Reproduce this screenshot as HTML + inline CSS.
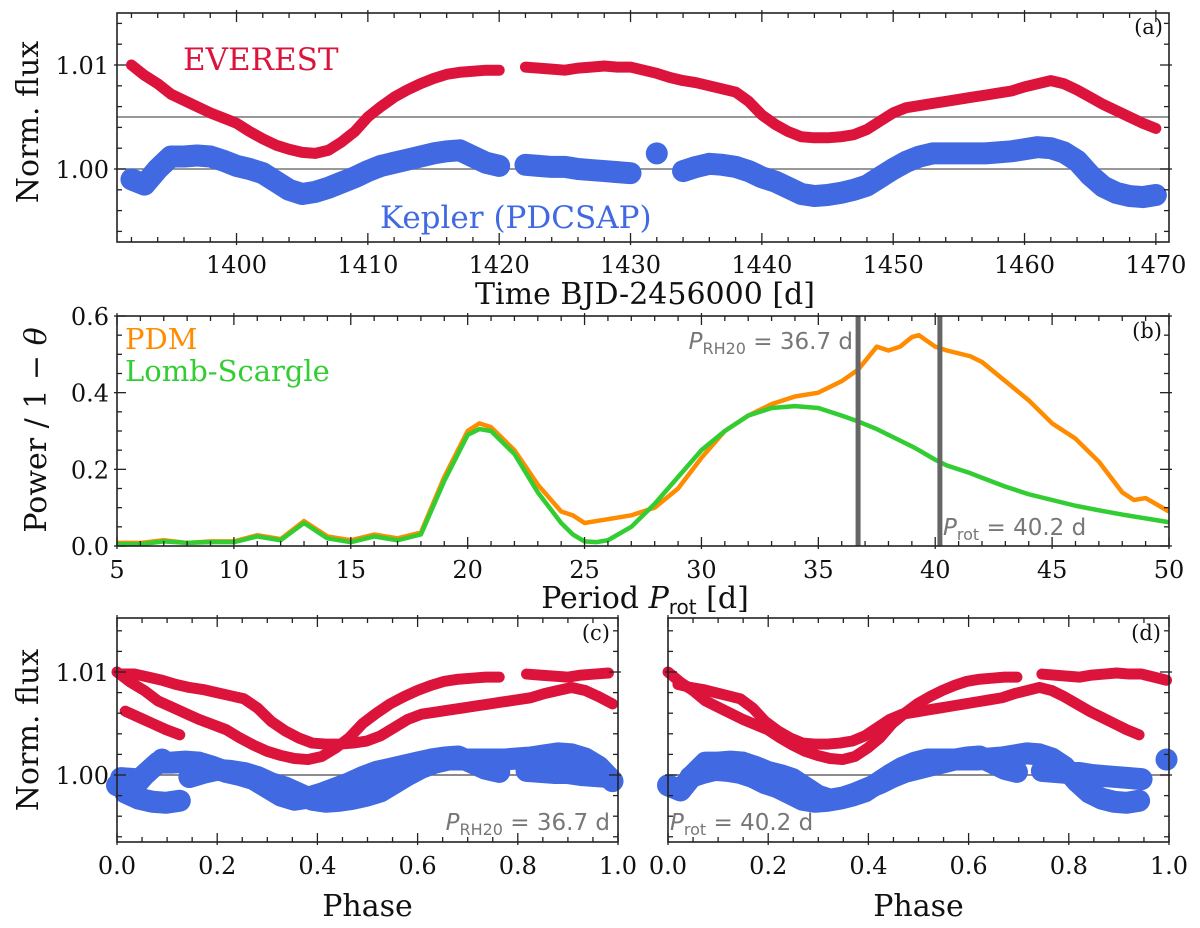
<!DOCTYPE html>
<html><head><meta charset="utf-8">
<style>
html,body{margin:0;padding:0;background:#fff;}
svg{display:block;font-family:"DejaVu Serif","Liberation Serif",serif;}
</style></head>
<body>
<svg id="fig" width="1200" height="928" viewBox="0 0 1200 928" xmlns="http://www.w3.org/2000/svg">
<g id="pa"></g>
<g id="pb"></g>
<g id="pc"></g>
<g id="pd"></g>
</svg>
<script>
// ---- Light curve data (normalized flux deviation, ppt) ----
const times = [1392,1393,1394,1395,1396,1397,1398,1399,1400,1401,1402,1403,1404,1405,1406,1407,1408,1409,1410,1411,1412,1413,1414,1415,1416,1417,1418,1419,1420,1421,1422,1423,1424,1425,1426,1427,1428,1429,1430,1431,1432,1433,1434,1435,1436,1437,1438,1439,1440,1441,1442,1443,1444,1445,1446,1447,1448,1449,1450,1451,1452,1453,1454,1455,1456,1457,1458,1459,1460,1461,1462,1463,1464,1465,1466,1467,1468,1469,1470];
const everestPpt = [10,9,8.2,7.2,6.6,6,5.4,4.9,4.4,3.6,2.9,2.3,1.9,1.6,1.5,1.8,2.6,3.6,5,6,6.9,7.6,8.2,8.7,9.1,9.3,9.4,9.5,9.5,null,9.8,9.7,9.6,9.5,9.7,9.8,9.9,9.8,9.8,9.5,9.2,8.8,8.5,8.3,8.0,7.7,7.4,6.5,5.2,4.3,3.6,3.1,3.0,3.0,3.1,3.3,3.8,4.6,5.4,5.9,6.1,6.3,6.5,6.7,6.9,7.1,7.3,7.5,7.9,8.2,8.5,8.2,7.6,6.9,6.2,5.6,5.0,4.4,3.9];
const keplerPpt = [-1,-1.5,0,1.2,1.2,1.3,1.2,0.8,0.3,0,-0.4,-1.2,-2,-2.4,-2.2,-1.8,-1.3,-0.8,-0.2,0.3,0.6,0.9,1.2,1.5,1.7,1.8,1.2,0.6,0.3,null,0.4,0.3,0.2,0.2,0.0,-0.1,-0.2,-0.3,-0.4,null,1.5,null,-0.2,0.2,0.5,0.4,0.2,-0.2,-0.8,-1.2,-1.8,-2.4,-2.6,-2.5,-2.3,-2.0,-1.6,-0.8,0,0.7,1.2,1.5,1.5,1.5,1.5,1.5,1.6,1.7,1.9,2.1,2.0,1.6,0.8,-0.6,-1.7,-2.3,-2.6,-2.7,-2.5];
const phaseT0 = 1392;
const periodC = 36.7;
const periodD = 40.2;
// ---- Periodogram data ----
const periods = [5,6,7,8,9,10,11,12,13,14,15,16,17,18,19,20,20.5,21,22,23,24,24.5,25,25.5,26,27,28,29,30,31,32,33,34,35,36,36.7,37.5,38,38.5,39,39.3,40,40.5,41.5,42,43,44,45,46,47,48,48.5,49,50];
const lombScargle = [0.005,0.005,0.012,0.008,0.01,0.01,0.025,0.015,0.06,0.02,0.01,0.025,0.015,0.03,0.17,0.29,0.305,0.3,0.24,0.14,0.06,0.03,0.012,0.01,0.015,0.05,0.11,0.18,0.25,0.3,0.34,0.36,0.365,0.36,0.34,0.325,0.305,0.29,0.275,0.26,0.25,0.225,0.21,0.19,0.178,0.155,0.135,0.12,0.105,0.093,0.082,0.077,0.072,0.062];
const pdm = [0.008,0.008,0.015,0.008,0.012,0.012,0.028,0.018,0.065,0.025,0.015,0.03,0.02,0.035,0.18,0.3,0.32,0.31,0.25,0.16,0.09,0.08,0.06,0.065,0.07,0.08,0.1,0.15,0.23,0.3,0.34,0.37,0.39,0.40,0.43,0.46,0.52,0.51,0.52,0.545,0.55,0.52,0.51,0.495,0.48,0.43,0.38,0.32,0.28,0.22,0.14,0.12,0.125,0.09];
const panelATicks = [1400,1410,1420,1430,1440,1450,1460,1470];
const periodTicks = [5,10,15,20,25,30,35,40,45,50];
const powerTicks = [0.0,0.2,0.4,0.6];
const phaseTicks = [0.0,0.2,0.4,0.6,0.8,1.0];
const fluxTicks = [0,10];
const fluxTickLabels = ["1.00","1.01"];

const NS="http://www.w3.org/2000/svg";
function mk(parent,tag,attrs){const e=document.createElementNS(NS,tag);for(const k in attrs)e.setAttribute(k,attrs[k]);parent.appendChild(e);return e;}
function scale(d0,d1,r0,r1){return v=>r0+(v-d0)/(d1-d0)*(r1-r0);}
function txt(parent,x,y,s,size,anchor,fill,name,extra){const t=mk(parent,'text',Object.assign({x:x,y:y,'font-size':size,'text-anchor':anchor||'middle',fill:fill||'#111'},extra||{}));t.textContent=s;


return t;}

function frame(g,X0,X1,Y0,Y1,sx,sy,xMaj,xMin,yMaj,yMin,xr,yr){
  const f=mk(g,'rect',{x:X0,y:Y0,width:X1-X0,height:Y1-Y0,fill:'none',stroke:'#222','stroke-width':1.6});
  
  
  const tg=mk(g,'g',{stroke:'#222','stroke-width':1.3});
  
  
  for(let v=xr[0];v<=xr[1]+1e-9;v+=xMin){const x=sx(v);if(x<X0-0.5||x>X1+0.5)continue;const major=xMaj.some(m=>Math.abs(m-v)<1e-6);const L=major?9:5;
    mk(tg,'line',{x1:x,y1:Y1+ (major?3:0),x2:x,y2:Y1-L});mk(tg,'line',{x1:x,y1:Y0-(major?3:0),x2:x,y2:Y0+L});}
  for(let v=yr[0];v<=yr[1]+1e-9;v+=yMin){const y=sy(v);if(y<Y0-0.5||y>Y1+0.5)continue;const major=yMaj.some(m=>Math.abs(m-v)<1e-6);const L=major?9:5;
    mk(tg,'line',{x1:X0-(major?3:0),y1:y,x2:X0+L,y2:y});mk(tg,'line',{x1:X1+(major?3:0),y1:y,x2:X1-L,y2:y});}
}
function band(g,pts,color,w,name){
  const gg=mk(g,'g',{stroke:color,'stroke-width':w,'stroke-linecap':'round','stroke-linejoin':'round',fill:'none'});
  
  
  let cur=[];
  const flush=()=>{if(cur.length>1)mk(gg,'polyline',{points:cur.map(p=>p.join(',')).join(' ')});else if(cur.length==1)mk(gg,'circle',{cx:cur[0][0],cy:cur[0][1],r:w/2,fill:color,stroke:'none'});cur=[];};
  pts.forEach(p=>{if(p===null)flush();else cur.push(p);});flush();
}
function dots(g,pts,color,name){
  const gg=mk(g,'g',{fill:color});
  
  
  pts.forEach(p=>{if(p)mk(gg,'circle',{cx:p[0],cy:p[1],r:3.2});});
}

// ---------- Panel A ----------
(function(){
  const g=document.getElementById('pa');
  const X0=117,X1=1169,Y0=13,Y1=242;
  const sx=scale(1390.9,1471.0,X0,X1), sy=scale(0,10,169,65);
  mk(g,'line',{x1:X0,x2:X1,y1:sy(5),y2:sy(5),stroke:'#777','stroke-width':1.5});
  mk(g,'line',{x1:X0,x2:X1,y1:sy(0),y2:sy(0),stroke:'#777','stroke-width':1.5});
  const ep=times.map((t,i)=>everestPpt[i]==null?null:[sx(t),sy(everestPpt[i])]);
  const kp=times.map((t,i)=>keplerPpt[i]==null?null:[sx(t),sy(keplerPpt[i])]);
  band(g,kp,'#4169e1',22,'kepler-series');
  dots(g,kp,'#4169e1','kepler-points');
  band(g,ep,'#dc143c',11,'everest-series');
  dots(g,ep,'#dc143c','everest-points');
  frame(g,X0,X1,Y0,Y1,sx,sy,panelATicks,2,fluxTicks,2,[1392,1470],[-6,14]);
  panelATicks.forEach(v=>txt(g,sx(v),273,String(v),24,'middle','#111','x-tick-label'));
  fluxTicks.forEach((v,i)=>txt(g,X0-8,sy(v)+9,fluxTickLabels[i],24,'end','#111','y-tick-label'));
  txt(g,645,304,'Time BJD-2456000 [d]',30,'middle','#111','x-axis-title');
  txt(g,0,0,'Norm. flux',30,'middle','#111','y-axis-title',{transform:'translate(38,122) rotate(-90)'});
  txt(g,183,70,'EVEREST',31,'start','#dc143c','everest-label');
  txt(g,380,228,'Kepler (PDCSAP)',31,'start','#4169e1','kepler-label');
  txt(g,1163,34,'(a)',21,'end','#111','panel-letter-a');
})();

// ---------- Panel B ----------
(function(){
  const g=document.getElementById('pb');
  const X0=117,X1=1169,Y0=316,Y1=546;
  const sx=scale(5,50,X0,X1), sy=scale(0,0.6,Y1,Y0);
  const pp=periods.map((p,i)=>[sx(p),sy(pdm[i])]);
  const lp=periods.map((p,i)=>[sx(p),sy(lombScargle[i])]);
  const o=mk(g,'polyline',{points:pp.map(p=>p.join(',')).join(' '),fill:'none',stroke:'#ff8c00','stroke-width':4.5,'stroke-linejoin':'round'});
  
  
  const l=mk(g,'polyline',{points:lp.map(p=>p.join(',')).join(' '),fill:'none',stroke:'#32cd32','stroke-width':4.5,'stroke-linejoin':'round'});
  
  
  [[periodC,'prh20-line'],[periodD,'prot-line']].forEach(([p,n])=>{const v=mk(g,'line',{x1:sx(p),x2:sx(p),y1:Y0,y2:Y1,stroke:'#666','stroke-width':5});
    
    });
  frame(g,X0,X1,Y0,Y1,sx,sy,periodTicks,1,powerTicks,0.05,[5,50],[0,0.6]);
  periodTicks.forEach(v=>txt(g,sx(v),578,String(v),24,'middle','#111','x-tick-label'));
  powerTicks.forEach(v=>txt(g,X0-8,sy(v)+9,v.toFixed(1),24,'end','#111','y-tick-label'));
  const t1=txt(g,645,608,'',30,'middle','#111','x-axis-title');
  t1.innerHTML='Period <tspan font-style="italic">P</tspan><tspan font-size="20" dy="6" font-family="DejaVu Sans, sans-serif">rot</tspan><tspan dy="-6"> [d]</tspan>';
  const t2=txt(g,0,0,'',30,'middle','#111','y-axis-title',{transform:'translate(46,430) rotate(-90)'});
  t2.innerHTML='Power / 1 − <tspan font-style="italic">θ</tspan>';
  txt(g,125,349,'PDM',29,'start','#ff8c00','legend-pdm');
  txt(g,125,381,'Lomb-Scargle',29,'start','#32cd32','legend-lomb-scargle');
  const a1=txt(g,853,349,'',23,'end','#777','prh20-annotation',{'font-family':'DejaVu Sans, sans-serif'});
  a1.innerHTML='<tspan font-style="italic">P</tspan><tspan font-size="16" dy="5">RH20</tspan><tspan dy="-5"> = 36.7 d</tspan>';
  const a2=txt(g,943,535,'',23,'start','#777','prot-annotation',{'font-family':'DejaVu Sans, sans-serif'});
  a2.innerHTML='<tspan font-style="italic">P</tspan><tspan font-size="16" dy="5">rot</tspan><tspan dy="-5"> = 40.2 d</tspan>';
  txt(g,1162,338,'(b)',21,'end','#111','panel-letter-b');
})();

// ---------- Phase panels ----------
function phasePanel(id,X0,X1,P,letter,annoHTML,annoX,showYLabels){
  const g=document.getElementById(id);
  const Y0=618,Y1=842;
  const sx=scale(0,1,X0,X1), sy=scale(0,10,775,672);
  mk(g,'line',{x1:X0,x2:X1,y1:sy(0),y2:sy(0),stroke:'#666','stroke-width':1.5});
  function pts(arr){const out=[];let prev=null;times.forEach((t,i)=>{if(arr[i]==null){out.push(null);prev=null;return;}
    const ph=((t-phaseT0)/P)%1; if(prev!==null&&ph<prev)out.push(null); out.push([sx(ph),sy(arr[i])]); prev=ph;});return out;}
  const kp=pts(keplerPpt), ep=pts(everestPpt);
  band(g,kp,'#4169e1',22,'kepler-phased-series');
  dots(g,kp,'#4169e1','kepler-phased-points');
  band(g,ep,'#dc143c',11,'everest-phased-series');
  dots(g,ep,'#dc143c','everest-phased-points');
  frame(g,X0,X1,Y0,Y1,sx,sy,phaseTicks,0.05,fluxTicks,2,[0,1],[-6,14]);
  phaseTicks.forEach(v=>txt(g,sx(v),874,v.toFixed(1),24,'middle','#111','x-tick-label'));
  if(showYLabels){fluxTicks.forEach((v,i)=>txt(g,X0-8,sy(v)+9,fluxTickLabels[i],24,'end','#111','y-tick-label'));
    txt(g,0,0,'Norm. flux',30,'middle','#111','y-axis-title',{transform:'translate(38,730) rotate(-90)'});}
  txt(g,(X0+X1)/2,916,'Phase',30,'middle','#111','x-axis-title');
  const a=txt(g,annoX,830,'',23,annoX>X0+200?'end':'start','#777','period-annotation',{'font-family':'DejaVu Sans, sans-serif'});
  a.innerHTML=annoHTML;
  txt(g,X1-8,640,letter,21,'end','#111','panel-letter');
}
phasePanel('pc',117,618,periodC,'(c)','<tspan font-style="italic">P</tspan><tspan font-size="16" dy="5">RH20</tspan><tspan dy="-5"> = 36.7 d</tspan>',610,true);
phasePanel('pd',668,1169,periodD,'(d)','<tspan font-style="italic">P</tspan><tspan font-size="16" dy="5">rot</tspan><tspan dy="-5"> = 40.2 d</tspan>',670,false);
</script>
</body></html>
